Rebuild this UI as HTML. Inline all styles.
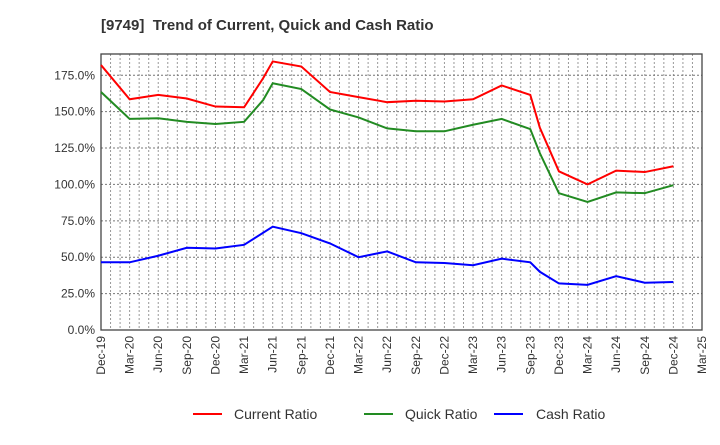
<!DOCTYPE html>
<html><head><meta charset="utf-8"><style>
body{margin:0;background:#fff;font-family:"Liberation Sans",sans-serif}
</style></head><body>
<svg id="chart" width="720" height="440" xmlns="http://www.w3.org/2000/svg" font-family="Liberation Sans, sans-serif">
<text x="101" y="30" font-size="15" font-weight="bold" fill="#333" xml:space="preserve">[9749]  Trend of Current, Quick and Cash Ratio</text>
<g id="grid"></g><g id="axes"></g><g id="series"></g>
<g font-size="14" fill="#333">
<line x1="193" y1="414" x2="222" y2="414" stroke="#f00" stroke-width="2"/><text x="234" y="419">Current Ratio</text>
<line x1="364" y1="414" x2="393" y2="414" stroke="#228b22" stroke-width="2"/><text x="405" y="419">Quick Ratio</text>
<line x1="494" y1="414" x2="523" y2="414" stroke="#00f" stroke-width="2"/><text x="536" y="419">Cash Ratio</text>
</g>
</svg>
<script>
const xTickLabels=["Dec-19","Mar-20","Jun-20","Sep-20","Dec-20","Mar-21","Jun-21","Sep-21","Dec-21","Mar-22","Jun-22","Sep-22","Dec-22","Mar-23","Jun-23","Sep-23","Dec-23","Mar-24","Jun-24","Sep-24","Dec-24","Mar-25"];
const yTicks=[0,25,50,75,100,125,150,175];
const currentMonths=[0,3,6,9,12,15,17,18,21,24,27,30,33,36,39,42,45,46,48,51,54,57,60];
const currentVals=[182,158.5,161.5,159,153.5,153,173,184.5,181,163.5,160,156.5,157.5,157,158.5,168,161.5,139,109,100,109.5,108.5,112.5];
const quickMonths=[0,3,6,9,12,15,17,18,21,24,27,30,33,36,39,42,45,46,48,51,54,57,60];
const quickVals=[163.5,145,145.5,143,141.5,143,158,169.5,165.5,151.5,146,138.5,136.5,136.5,141,145,138,121.5,94,88,94.5,94,99.5];
const cashMonths=[0,3,6,9,12,15,18,21,24,27,30,33,36,39,42,45,46,48,51,54,57,60];
const cashVals=[46.5,46.5,51,56.5,56,58.5,71,66.5,59.5,50,54,46.5,46,44.5,49,46.5,40,32,31,37,32.5,33];
const L=101,R=702,T=54,B=330,ymax=189.6,mmax=63;
const xs=m=>L+m*(R-L)/mmax, ys=v=>B-v*(B-T)/ymax;
const NS="http://www.w3.org/2000/svg";
function mk(p,t,a){const e=document.createElementNS(NS,t);for(const k in a)e.setAttribute(k,a[k]);p.appendChild(e);return e;}
const grid=document.getElementById('grid'),axes=document.getElementById('axes'),ser=document.getElementById('series');
for(let m=1;m<mmax;m++){const g=mk(grid,'line',{x1:xs(m),x2:xs(m),y1:T,y2:B,stroke:'#999','stroke-dasharray':'2,2','stroke-width':1});

}
yTicks.forEach(v=>{if(v>0){const g=mk(grid,'line',{x1:L,x2:R,y1:ys(v),y2:ys(v),stroke:'#777','stroke-dasharray':'2,2','stroke-width':1});

}
const t=mk(axes,'text',{x:L-6,y:ys(v)+4,'text-anchor':'end','font-size':12,fill:'#333'});t.textContent=v.toFixed(1)+'%';

});
xTickLabels.forEach((s,i)=>{const x=xs(i*3);const t=mk(axes,'text',{transform:`translate(${x+4},${B+6}) rotate(-90)`,'text-anchor':'end','font-size':12,fill:'#333'});t.textContent=s;

});
const fr=mk(axes,'rect',{x:L,y:T,width:R-L,height:B-T,fill:'none',stroke:'#444','stroke-width':1.3});


[[currentMonths,currentVals,'#f00','current-ratio-line'],[quickMonths,quickVals,'#228b22','quick-ratio-line'],[cashMonths,cashVals,'#00f','cash-ratio-line']].forEach(([ms,vs,c,n])=>{
const p=mk(ser,'polyline',{points:ms.map((m,i)=>xs(m)+','+ys(vs[i])).join(' '),fill:'none',stroke:c,'stroke-width':2});

});
</script>
</body></html>
